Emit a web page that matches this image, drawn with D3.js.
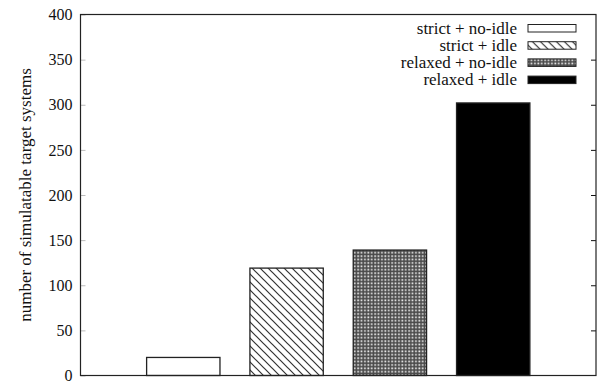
<!DOCTYPE html>
<html>
<head>
<meta charset="utf-8">
<script src="https://cdn.jsdelivr.net/npm/d3@7"></script>
<style>
  html, body { margin: 0; padding: 0; background: #fff; }
  svg { display: block; }
  svg text { font-family: "Liberation Serif", "Times New Roman", "DejaVu Serif", serif !important; fill: #111; }
</style>
</head>
<body>
<svg id="chart" width="599" height="384"></svg>
<script>
// Configurations and the number of target systems each can simulate
const configs = ["strict + no-idle", "strict + idle", "relaxed + no-idle", "relaxed + idle"];
const systems = [20, 119, 139, 302];
const fills = ["url(#fill-none)", "url(#fill-hatch)", "url(#fill-check)", "url(#fill-solid)"];
const yTicks = [0, 50, 100, 150, 200, 250, 300, 350, 400];
const yTitle = "number of simulatable target systems";

const W = 599, H = 384;
const margin = { left: 80.5, right: 3, top: 14.5, bottom: 8.5 };
const FONT = "Liberation Serif, Times New Roman, serif";
const svg = d3.select("#chart");

// Fill patterns
const defs = svg.append("defs");
defs.append("pattern").attr("id", "fill-none")
  .attr("patternUnits", "userSpaceOnUse").attr("width", 4).attr("height", 4)
  .append("rect").attr("width", 4).attr("height", 4).attr("fill", "#fff");

const hatch = defs.append("pattern").attr("id", "fill-hatch")
  .attr("patternUnits", "userSpaceOnUse").attr("width", 8).attr("height", 8);
hatch.append("rect").attr("width", 8).attr("height", 8).attr("fill", "#fff");
hatch.append("path").attr("d", "M-2,-2 L10,10 M-6,2 L2,10 M6,-2 L10,2")
  .attr("stroke", "#333").attr("stroke-width", 1.2);

const check = defs.append("pattern").attr("id", "fill-check")
  .attr("patternUnits", "userSpaceOnUse").attr("width", 3.4).attr("height", 3.4);
check.append("rect").attr("width", 3.4).attr("height", 3.4).attr("fill", "#4a4a4a");
check.append("rect").attr("x", 0.3).attr("y", 0.3).attr("width", 1.7).attr("height", 1.7).attr("fill", "#eee");

defs.append("pattern").attr("id", "fill-solid")
  .attr("patternUnits", "userSpaceOnUse").attr("width", 4).attr("height", 4)
  .append("rect").attr("width", 4).attr("height", 4).attr("fill", "#000");

// Scales
const x = d3.scaleBand().domain(configs)
  .range([margin.left, W - margin.right])
  .paddingInner(0.29).paddingOuter(0.64);
const y = d3.scaleLinear().domain([0, 400]).range([H - margin.bottom, margin.top]);

// Bars
svg.append("g").selectAll("rect").data(configs).join("rect")
  .attr("x", d => x(d))
  .attr("width", x.bandwidth())
  .attr("y", (d, i) => y(systems[i]))
  .attr("height", (d, i) => y(0) - y(systems[i]))
  .attr("fill", (d, i) => fills[i])
  .attr("stroke", "#222").attr("stroke-width", 1.3);

// Left axis with labels, ticks pointing inward
const left = svg.append("g").attr("transform", `translate(${margin.left},0)`)
  .call(d3.axisLeft(y).tickValues(yTicks).tickSizeInner(-5).tickSizeOuter(0).tickPadding(8));
left.attr("font-family", FONT).attr("font-size", 16);
left.select(".domain").remove();
left.selectAll("line").attr("stroke", "#bbb");
left.selectAll("text").attr("fill", "#111").attr("dy", "0.32em");

// Right axis ticks, inward
const right = svg.append("g").attr("transform", `translate(${W - margin.right},0)`)
  .call(d3.axisRight(y).tickValues(yTicks.slice(1, -1)).tickSizeInner(-5).tickSizeOuter(0).tickFormat(""));
right.select(".domain").remove();
right.selectAll("line").attr("stroke", "#111");

// Frame
svg.append("rect")
  .attr("x", margin.left).attr("y", margin.top)
  .attr("width", W - margin.right - margin.left)
  .attr("height", H - margin.bottom - margin.top)
  .attr("fill", "none").attr("stroke", "#222").attr("stroke-width", 1.2);

// Y-axis title
svg.append("text")
  .attr("transform", `translate(25,${(y(0) + y(400)) / 2}) rotate(-90)`)
  .attr("text-anchor", "middle").attr("dominant-baseline", "central")
  .attr("font-family", FONT).attr("font-size", 17).text(yTitle);

// Legend
const legend = svg.append("g");
const rows = legend.selectAll("g").data(configs).join("g")
  .attr("transform", (d, i) => `translate(0,${28 + i * 17.2})`);
rows.append("text").attr("x", 517).attr("y", 0)
  .attr("text-anchor", "end").attr("dominant-baseline", "central")
  .attr("font-family", FONT).attr("font-size", 17).text(d => d);
rows.append("rect").attr("x", 528).attr("y", -3.5).attr("width", 48).attr("height", 7.5)
  .attr("fill", (d, i) => fills[i]).attr("stroke", "#222").attr("stroke-width", 1);
</script>
</body>
</html>
